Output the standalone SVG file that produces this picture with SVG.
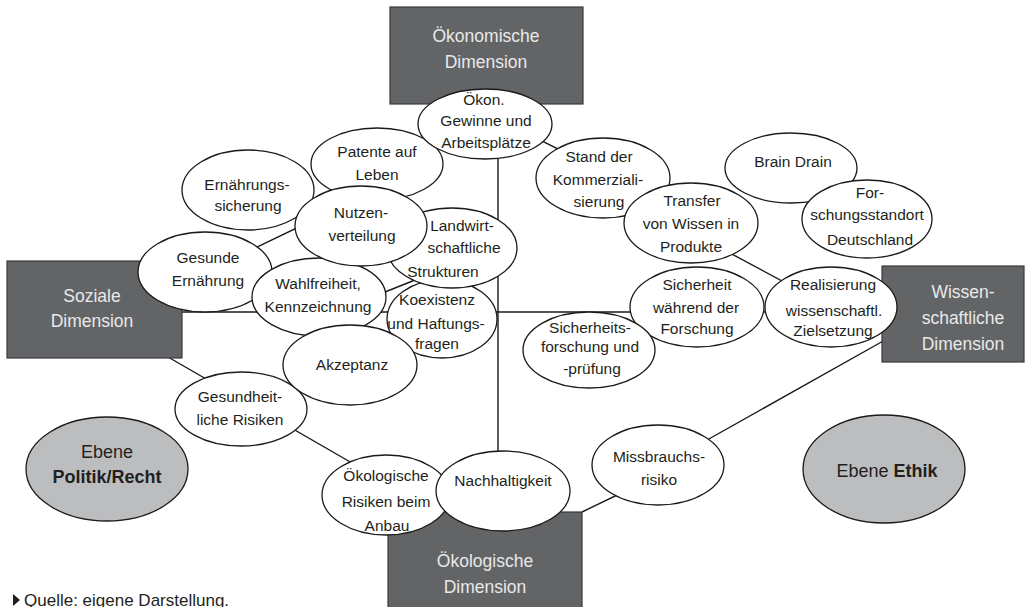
<svg xmlns="http://www.w3.org/2000/svg" width="1026" height="607" viewBox="0 0 1026 607">
<style>
.box{fill:#636466;stroke:#3a3a3c;stroke-width:1.2}
.bt{font-family:"Liberation Sans",Arial,sans-serif;font-size:17.5px;fill:#e8e9ea;text-anchor:middle}
.n{fill:#fff;stroke:#1a1a1a;stroke-width:1.3}
.t{font-family:"Liberation Sans",Arial,sans-serif;font-size:15.5px;fill:#231f20;text-anchor:middle}
.lv{fill:#bcbdbf;stroke:#1a1a1a;stroke-width:1.3}
.lt{font-family:"Liberation Sans",Arial,sans-serif;font-size:18px;fill:#231f20;text-anchor:middle}
.c{stroke:#1a1a1a;stroke-width:1.4;fill:none}
</style>
<rect width="1026" height="607" fill="#fff"/>
<g id="connectors">
<line class="c" x1="498" y1="130" x2="498" y2="470"/>
<line class="c" x1="182" y1="312" x2="882" y2="312"/>
<line class="c" x1="168" y1="357" x2="352" y2="463"/>
<line class="c" x1="205" y1="272" x2="330" y2="212"/>
<line class="c" x1="370" y1="298" x2="420" y2="278"/>
<line class="c" x1="500" y1="120" x2="600" y2="170"/>
<line class="c" x1="700" y1="237" x2="810" y2="296"/>
<line class="c" x1="885" y1="340" x2="700" y2="444"/>
<line class="c" x1="582" y1="512" x2="640" y2="484"/>
</g>
<g id="oekonomische-dimension">
<rect class="box" x="390" y="7" width="193" height="97"/>
<text class="bt" x="486" y="42">Ökonomische</text>
<text class="bt" x="486" y="68">Dimension</text>
</g>
<g id="soziale-dimension">
<rect class="box" x="7" y="261" width="175" height="97"/>
<text class="bt" x="92" y="302">Soziale</text>
<text class="bt" x="92" y="327">Dimension</text>
</g>
<g id="wissenschaftliche-dimension">
<rect class="box" x="882" y="266" width="142" height="96"/>
<text class="bt" x="963" y="298">Wissen-</text>
<text class="bt" x="963" y="324">schaftliche</text>
<text class="bt" x="963" y="350">Dimension</text>
</g>
<g id="oekologische-dimension">
<rect class="box" x="388" y="512" width="194" height="100"/>
<text class="bt" x="485" y="567">Ökologische</text>
<text class="bt" x="485" y="593">Dimension</text>
</g>
<g id="patente">
<ellipse class="n" cx="377" cy="164" rx="66" ry="36"/>
<text class="t" x="377" y="157">Patente auf</text>
<text class="t" x="377" y="180">Leben</text>
</g>
<g id="ernaehrungssicherung">
<ellipse class="n" cx="248" cy="190" rx="66" ry="40"/>
<text class="t" x="247" y="190">Ernährungs-</text>
<text class="t" x="248" y="211">sicherung</text>
</g>
<g id="gesunde-ernaehrung">
<ellipse class="n" cx="205" cy="272" rx="67" ry="40"/>
<text class="t" x="208" y="263">Gesunde</text>
<text class="t" x="208" y="286">Ernährung</text>
</g>
<g id="koexistenz">
<ellipse class="n" cx="442" cy="319" rx="55" ry="39"/>
<text class="t" x="437" y="305">Koexistenz</text>
<text class="t" x="436" y="329">und Haftungs-</text>
<text class="t" x="437" y="349">fragen</text>
</g>
<g id="landwirtschaftliche-strukturen">
<ellipse class="n" cx="452" cy="248" rx="65" ry="40"/>
<text class="t" x="462" y="231">Landwirt-</text>
<text class="t" x="464" y="253">schaftliche</text>
<text class="t" x="443" y="277">Strukturen</text>
</g>
<g id="wahlfreiheit">
<ellipse class="n" cx="319" cy="297" rx="67" ry="39"/>
<text class="t" x="318" y="289">Wahlfreiheit,</text>
<text class="t" x="318" y="312">Kennzeichnung</text>
</g>
<g id="nutzenverteilung">
<ellipse class="n" cx="361" cy="226" rx="66" ry="40"/>
<text class="t" x="361" y="218">Nutzen-</text>
<text class="t" x="362" y="241">verteilung</text>
</g>
<g id="gesundheitliche-risiken">
<ellipse class="n" cx="241" cy="409" rx="66" ry="37"/>
<text class="t" x="240" y="402">Gesundheit-</text>
<text class="t" x="240" y="425">liche Risiken</text>
</g>
<g id="akzeptanz">
<ellipse class="n" cx="350" cy="365" rx="67" ry="40"/>
<text class="t" x="352" y="370">Akzeptanz</text>
</g>
<g id="oekon-gewinne">
<ellipse class="n" cx="485" cy="124" rx="67" ry="35"/>
<text class="t" x="484" y="105">Ökon.</text>
<text class="t" x="486" y="126">Gewinne und</text>
<text class="t" x="486" y="148">Arbeitsplätze</text>
</g>
<g id="stand-kommerzialisierung">
<ellipse class="n" cx="603" cy="178" rx="67" ry="40"/>
<text class="t" x="599" y="162">Stand der</text>
<text class="t" x="598" y="185">Kommerziali-</text>
<text class="t" x="599" y="207">sierung</text>
</g>
<g id="transfer">
<ellipse class="n" cx="691" cy="223" rx="67" ry="40"/>
<text class="t" x="692" y="206">Transfer</text>
<text class="t" x="691" y="229">von Wissen in</text>
<text class="t" x="691" y="252">Produkte</text>
</g>
<g id="brain-drain">
<ellipse class="n" cx="791" cy="168" rx="66" ry="35"/>
<text class="t" x="793" y="167">Brain Drain</text>
</g>
<g id="forschungsstandort">
<ellipse class="n" cx="867" cy="219" rx="65" ry="39"/>
<text class="t" x="870" y="198">For-</text>
<text class="t" x="867" y="220">schungsstandort</text>
<text class="t" x="870" y="245">Deutschland</text>
</g>
<g id="sicherheit-forschung">
<ellipse class="n" cx="697" cy="307" rx="67" ry="40"/>
<text class="t" x="697" y="290">Sicherheit</text>
<text class="t" x="696" y="313">während der</text>
<text class="t" x="697" y="334">Forschung</text>
</g>
<g id="realisierung">
<ellipse class="n" cx="831" cy="307" rx="66" ry="40"/>
<text class="t" x="833" y="290">Realisierung</text>
<text class="t" x="834" y="316">wissenschaftl.</text>
<text class="t" x="833" y="336">Zielsetzung</text>
</g>
<g id="sicherheitsforschung">
<ellipse class="n" cx="589" cy="350" rx="66" ry="38"/>
<text class="t" x="590" y="333">Sicherheits-</text>
<text class="t" x="590" y="352">forschung und</text>
<text class="t" x="592" y="374">-prüfung</text>
</g>
<g id="missbrauchsrisiko">
<ellipse class="n" cx="658" cy="465" rx="66" ry="40"/>
<text class="t" x="659" y="462">Missbrauchs-</text>
<text class="t" x="659" y="485">risiko</text>
</g>
<g id="oekologische-risiken">
<ellipse class="n" cx="386" cy="495" rx="64" ry="40"/>
<text class="t" x="386" y="481">Ökologische</text>
<text class="t" x="386" y="507">Risiken beim</text>
<text class="t" x="387" y="531">Anbau</text>
</g>
<g id="nachhaltigkeit">
<ellipse class="n" cx="503" cy="491" rx="67" ry="40"/>
<text class="t" x="503" y="486">Nachhaltigkeit</text>
</g>
<g id="ebene-politik-recht">
<ellipse class="lv" cx="107" cy="469" rx="81" ry="52"/>
<text class="lt" x="107" y="458">Ebene</text>
<text class="lt" x="107" y="483" font-weight="bold">Politik/Recht</text>
</g>
<g id="ebene-ethik">
<ellipse class="lv" cx="884" cy="469" rx="81" ry="54"/>
<text class="lt" x="887" y="477">Ebene <tspan font-weight="bold">Ethik</tspan></text>
</g>
<g id="quelle">
<polygon points="13,594 20,600 13,606" fill="#231f20"/>
<text x="24" y="606" font-family="'Liberation Sans',Arial,sans-serif" font-size="17px" fill="#231f20">Quelle: eigene Darstellung.</text>
</g>
</svg>
